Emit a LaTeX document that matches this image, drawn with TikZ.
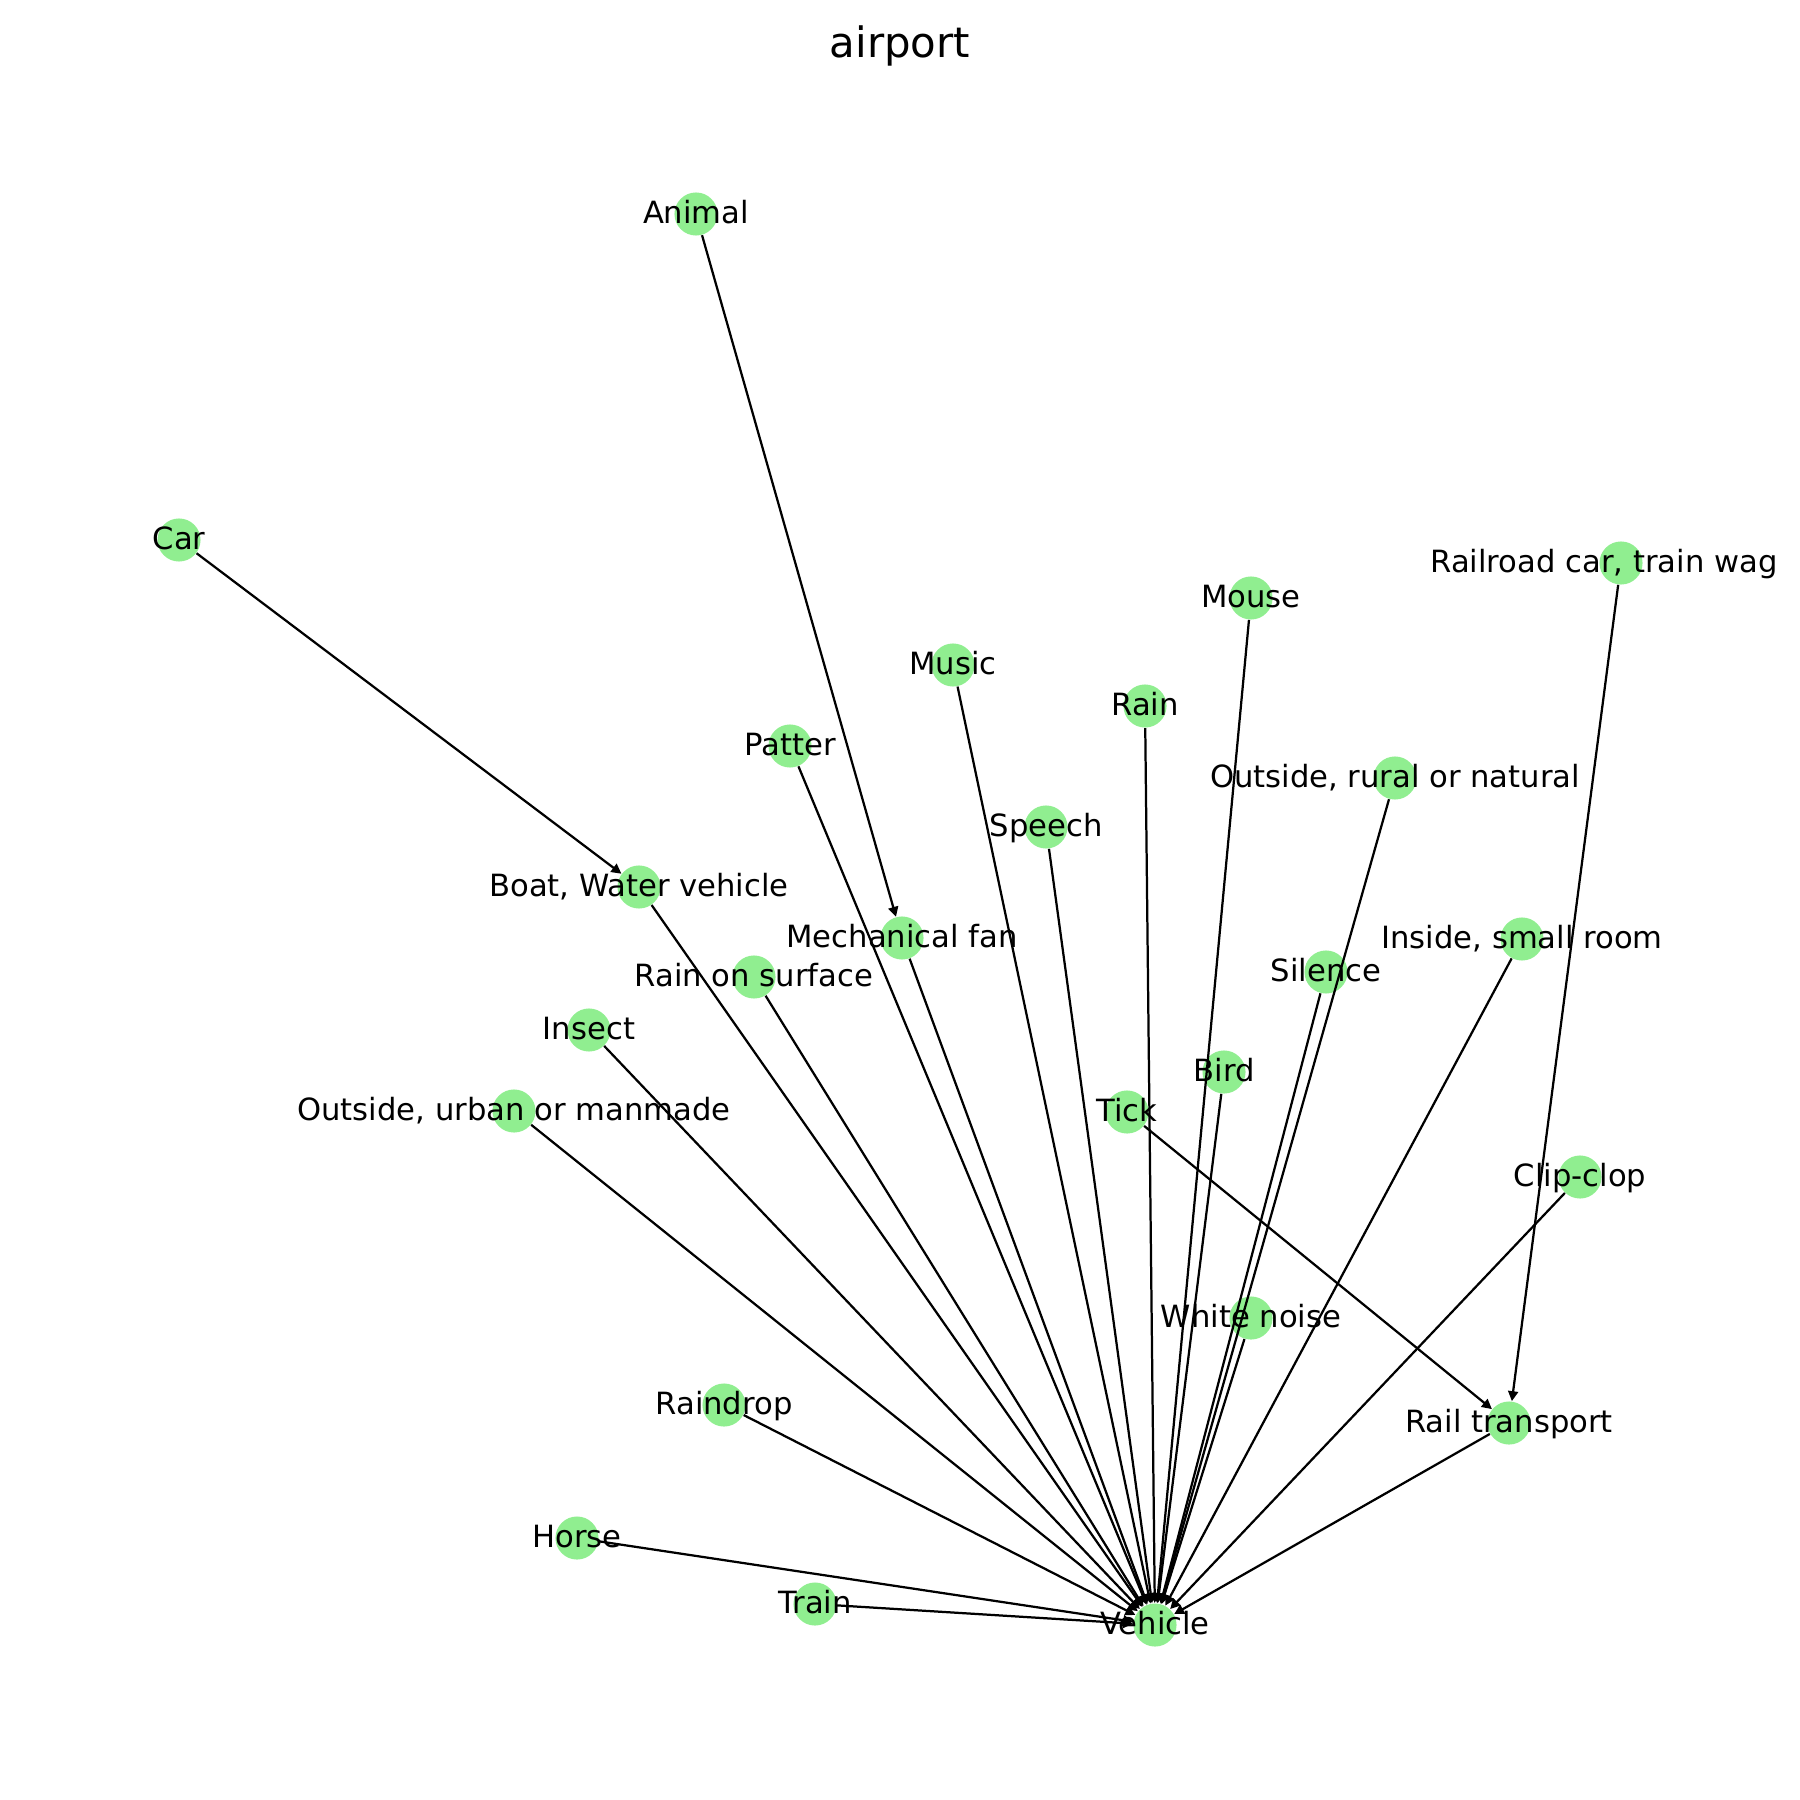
\documentclass[tikz,border=0pt]{standalone}
\usepackage{fontspec}
\setmainfont{DejaVu Sans}
\usetikzlibrary{arrows.meta,calc}
\definecolor{lgreen}{HTML}{90EE90}
\tikzset{
  nd/.style={circle,fill=lgreen,inner sep=0pt,minimum size=17.3pt},
  lbl/.style={font=\fontsize{12.3}{14}\selectfont,inner sep=0pt,text height=9pt,text depth=1.6pt},
  edge/.style={-{Triangle[length=4pt,width=4pt]},line width=0.9pt}
}
\begin{document}
\begin{tikzpicture}[x=0.0141111cm,y=-0.0141111cm]
  \useasboundingbox (0,0) rectangle (1800,1800);
  \node[font=\fontsize{16.8}{20}\selectfont,inner sep=0pt,anchor=base] (title) at (900,58) {airport};
  % nodes
  \node[nd] (animal) at (696,214) {};
  \node[nd] (car) at (179,540) {};
  \node[nd] (rrcar) at (1621,563) {};
  \node[nd] (mouse) at (1251,598) {};
  \node[nd] (music) at (953,665) {};
  \node[nd] (rain) at (1145,706) {};
  \node[nd] (patter) at (790,746) {};
  \node[nd] (outrural) at (1395,778) {};
  \node[nd] (speech) at (1046,827) {};
  \node[nd] (boat) at (639,887) {};
  \node[nd] (fan) at (902,938) {};
  \node[nd] (inroom) at (1522,939) {};
  \node[nd] (rainsurf) at (754,977) {};
  \node[nd] (silence) at (1326,972) {};
  \node[nd] (insect) at (589,1030) {};
  \node[nd] (bird) at (1224,1072) {};
  \node[nd] (tick) at (1127,1112) {};
  \node[nd] (outurban) at (514,1111) {};
  \node[nd] (clipclop) at (1580,1177) {};
  \node[nd] (whitenoise) at (1251,1318) {};
  \node[nd] (railtr) at (1509,1423) {};
  \node[nd] (raindrop) at (724,1405) {};
  \node[nd] (horse) at (577,1538) {};
  \node[nd] (train) at (815,1604) {};
  \node[nd] (vehicle) at (1155,1625) {};
  % edges
  \draw[edge] (animal) -- (fan);
  \draw[edge] (car) -- (boat);
  \draw[edge] (rrcar) -- (railtr);
  \draw[edge] (tick) -- (railtr);
  \foreach \s in {mouse,music,rain,patter,outrural,speech,boat,fan,inroom,rainsurf,silence,insect,bird,outurban,clipclop,whitenoise,railtr,raindrop,horse,train}
    \draw[edge] (\s) -- (vehicle);
  % labels
  \foreach \n/\t in {animal/Animal,car/Car,mouse/Mouse,music/Music,rain/Rain,patter/Patter,
    outrural/{Outside, rural or natural},speech/Speech,boat/{Boat, Water vehicle},fan/Mechanical fan,
    inroom/{Inside, small room},rainsurf/Rain on surface,silence/Silence,insect/Insect,bird/Bird,
    tick/Tick,outurban/{Outside, urban or manmade},clipclop/Clip-clop,whitenoise/White noise,
    railtr/Rail transport,raindrop/Raindrop,horse/Horse,train/Train,vehicle/Vehicle}
    \node[lbl] (lbl-\n) at (\n) {\t};
  \node[lbl,anchor=west] (lbl-rrcar) at ($(rrcar.center)+(-191,0)$) {Railroad car, train wag};
\end{tikzpicture}
\end{document}
